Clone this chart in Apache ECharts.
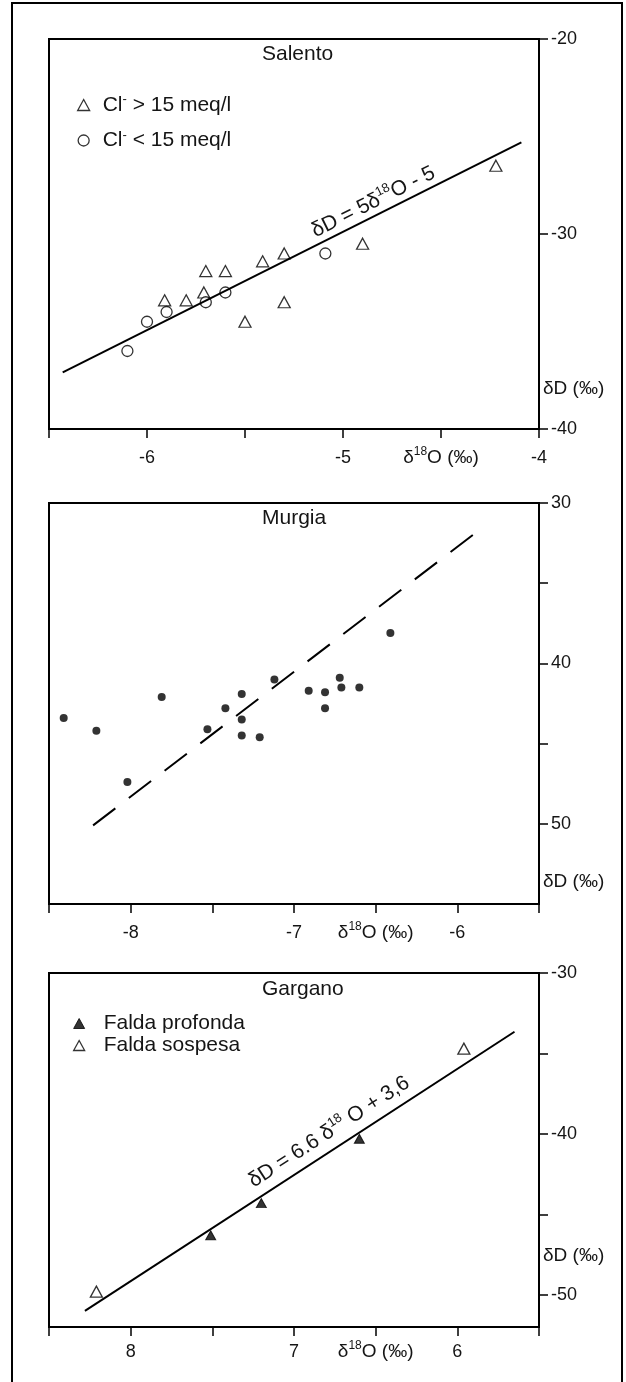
<!DOCTYPE html>
<html>
<head>
<meta charset="utf-8">
<title>Salento - Murgia - Gargano</title>
<script src="https://cdn.jsdelivr.net/npm/echarts@6/dist/echarts.min.js"></script>
<style>
  html, body { margin: 0; padding: 0; background: #fff; }
  #chart { width: 626px; height: 1382px; }
</style>
</head>
<body>
<div id="chart"></div>
<script>
// ---- Salento ----
// Cl- > 15 meq/l (triangoli vuoti)
const salentoHighClX = [-5.70, -5.60, -5.41, -5.30, -5.91, -5.80, -5.71, -5.50, -5.30, -4.90, -4.22]
const salentoHighClY = [-31.9, -31.9, -31.4, -31.0, -33.4, -33.4, -33.0, -34.5, -33.5, -30.5, -26.5]
// Cl- < 15 meq/l (cerchi vuoti)
const salentoLowClX = [-6.10, -6.00, -5.90, -5.70, -5.60, -5.09]
const salentoLowClY = [-36.0, -34.5, -34.0, -33.5, -33.0, -31.0]
// retta dD = 5 d18O - 5
const salentoLineX = [-6.43, -4.09]
const salentoLineY = [-37.1, -25.3]

const salentoXTicks = [-6.5, -6, -5.5, -5, -4.5, -4]
const salentoXLabelVals = [-6, -5, -4]
const salentoXLabelText = ['-6', '-5', '-4']
const salentoYTicks = [-20, -30, -40]
const salentoYLabelText = ['-20', '-30', '-40']

// ---- Murgia ----
const murgiaX = [-8.41, -8.21, -8.02, -7.81, -7.53, -7.42, -7.32, -7.32, -7.32, -7.21, -7.12, -6.91, -6.81, -6.81, -6.72, -6.71, -6.60, -6.41]
const murgiaY = [-43.4, -44.2, -47.4, -42.1, -44.1, -42.8, -41.9, -43.5, -44.5, -44.6, -41.0, -41.7, -41.8, -42.8, -40.9, -41.5, -41.5, -38.1]
const murgiaLineX = [-8.23, -5.88]
const murgiaLineY = [-50.1, -31.8]

const murgiaXTicks = [-8.5, -8, -7.5, -7, -6.5, -6, -5.5]
const murgiaXLabelVals = [-8, -7, -6]
const murgiaXLabelText = ['-8', '-7', '-6']
const murgiaYTicks = [-30, -35, -40, -45, -50]
const murgiaYLabelVals = [-30, -40, -50]
const murgiaYLabelText = ['30', '40', '50']

// ---- Gargano ----
const garganoDeepX = [-6.60, -7.20, -7.51]      // Falda profonda
const garganoDeepY = [-40.3, -44.3, -46.3]
const garganoPerchedX = [-5.96, -8.21]          // Falda sospesa
const garganoPerchedY = [-34.7, -49.8]
const garganoLineX = [-8.28, -5.65]
const garganoLineY = [-51.0, -33.65]

const garganoXTicks = [-8.5, -8, -7.5, -7, -6.5, -6, -5.5]
const garganoXLabelVals = [-8, -7, -6]
const garganoXLabelText = ['8', '7', '6']
const garganoYTicks = [-30, -35, -40, -45, -50]
const garganoYLabelVals = [-30, -40, -50]
const garganoYLabelText = ['-30', '-40', '-50']

const FONT = '"Liberation Sans", Arial, Helvetica, sans-serif'
const INK = '#151515'

function pts(xs, ys) {
  return xs.map((x, i) => [x, ys[i]])
}

// etichette asse: numeri + nome dell'asse x in una posizione di tacca
function labelFn(vals, texts, nameAt) {
  return function (v) {
    if (nameAt !== undefined && Math.abs(v - nameAt) < 1e-6) return '{n|δ}{s|18}{n|O (‰)}'
    const i = vals.findIndex(d => Math.abs(d - v) < 1e-6)
    return i < 0 ? '' : texts[i]
  }
}

const supRich = {
  n: {fontSize: 19, fontFamily: FONT, color: INK, lineHeight: 24},
  s: {fontSize: 12, fontFamily: FONT, color: INK, lineHeight: 12, verticalAlign: 'top'}
}

function xAxisOf(gi, min, max, ticks, labelVals, labelText, nameAt, margin) {
  return {
    type: 'value', gridIndex: gi, min: min, max: max,
    splitLine: {show: false},
    axisLine: {show: true, onZero: false, lineStyle: {color: '#000', width: 2}},
    axisTick: {show: true, inside: false, length: 9, customValues: ticks, lineStyle: {color: '#000', width: 1.5}},
    axisLabel: {
      customValues: labelVals.concat([nameAt]),
      formatter: labelFn(labelVals, labelText, nameAt),
      margin: margin, fontSize: 18, fontFamily: FONT, color: INK, lineHeight: 24,
      rich: supRich
    }
  }
}

function yAxisOf(gi, min, max, ticks, labelVals, labelText) {
  return {
    type: 'value', gridIndex: gi, position: 'right', min: min, max: max,
    splitLine: {show: false},
    axisLine: {show: true, onZero: false, lineStyle: {color: '#000', width: 2}},
    axisTick: {show: true, inside: false, length: 9, customValues: ticks, lineStyle: {color: '#000', width: 1.5}},
    axisLabel: {
      customValues: labelVals,
      formatter: labelFn(labelVals, labelText),
      margin: 12, fontSize: 18, fontFamily: FONT, color: INK
    }
  }
}

function legendRich(gap) {
  return {
    a: {fontSize: 21, fontFamily: FONT, color: INK, lineHeight: 24, padding: [0, 0, 0, gap]},
    n: {fontSize: 21, fontFamily: FONT, color: INK, lineHeight: 24},
    s: {fontSize: 13, fontFamily: FONT, color: INK, lineHeight: 11, verticalAlign: 'top'}
  }
}
const legendText = {
  'Cl- > 15 meq/l': '{a|Cl}{s|-}{n| > 15 meq/l}',
  'Cl- < 15 meq/l': '{a|Cl}{s|-}{n| < 15 meq/l}',
  'Falda profonda': '{a|Falda profonda}',
  'Falda sospesa': '{a|Falda sospesa}'
}
const openStyle = {color: '#fff', borderColor: '#000', borderWidth: 1.3}
const fillStyle = {color: '#000', borderColor: '#000', borderWidth: 1}

const option = {
  animation: false,
  backgroundColor: '#fff',
  title: [
    {text: 'Salento', left: 262, top: 44},
    {text: 'Murgia', left: 262, top: 508},
    {text: 'Gargano', left: 262, top: 979}
  ].map(t => Object.assign(t, {padding: 0, textStyle: {fontSize: 21, fontWeight: 'normal', fontFamily: FONT, color: INK}})),
  grid: [
    {left: 49, top: 39, width: 490, height: 390},
    {left: 49, top: 503, width: 490, height: 401},
    {left: 49, top: 973, width: 490, height: 354}
  ].map(g => Object.assign(g, {show: true, borderColor: '#000', borderWidth: 2, containLabel: false, outerBoundsMode: 'none'})),
  legend: [
    {
      left: 77, top: 93, orient: 'vertical', padding: 0, itemWidth: 12, itemHeight: 11, itemGap: 13,
      selectedMode: false,
      data: [
        {name: 'Cl- > 15 meq/l', icon: 'triangle', itemStyle: openStyle},
        {name: 'Cl- < 15 meq/l', icon: 'circle', itemStyle: openStyle}
      ],
      formatter: name => legendText[name],
      textStyle: {fontSize: 21, fontFamily: FONT, color: INK, rich: legendRich(8)}
    },
    {
      left: 73, top: 1013, orient: 'vertical', padding: 0, itemWidth: 11, itemHeight: 10, itemGap: 1,
      selectedMode: false,
      data: [
        {name: 'Falda profonda', icon: 'triangle', itemStyle: fillStyle},
        {name: 'Falda sospesa', icon: 'triangle', itemStyle: openStyle}
      ],
      formatter: name => legendText[name],
      textStyle: {fontSize: 21, fontFamily: FONT, color: INK, rich: legendRich(14)}
    }
  ],
  xAxis: [
    xAxisOf(0, -6.5, -4, salentoXTicks, salentoXLabelVals, salentoXLabelText, -4.5, 17),
    xAxisOf(1, -8.5, -5.5, murgiaXTicks, murgiaXLabelVals, murgiaXLabelText, -6.5, 17),
    xAxisOf(2, -8.5, -5.5, garganoXTicks, garganoXLabelVals, garganoXLabelText, -6.5, 13)
  ],
  yAxis: [
    yAxisOf(0, -40, -20, salentoYTicks, salentoYTicks, salentoYLabelText),
    yAxisOf(1, -55, -30, murgiaYTicks, murgiaYLabelVals, murgiaYLabelText),
    yAxisOf(2, -52, -30, garganoYTicks, garganoYLabelVals, garganoYLabelText)
  ],
  series: [
    {
      name: 'salento-line', type: 'line', xAxisIndex: 0, yAxisIndex: 0,
      data: pts(salentoLineX, salentoLineY), symbol: 'none',
      lineStyle: {color: '#000', width: 2}
    },
    {
      name: 'Cl- > 15 meq/l', type: 'scatter', xAxisIndex: 0, yAxisIndex: 0,
      data: pts(salentoHighClX, salentoHighClY), symbol: 'triangle', symbolSize: [12, 11],
      itemStyle: openStyle
    },
    {
      name: 'Cl- < 15 meq/l', type: 'scatter', xAxisIndex: 0, yAxisIndex: 0,
      data: pts(salentoLowClX, salentoLowClY), symbol: 'circle', symbolSize: 11,
      itemStyle: openStyle
    },
    {
      name: 'murgia-line', type: 'line', xAxisIndex: 1, yAxisIndex: 1,
      data: pts(murgiaLineX, murgiaLineY), symbol: 'none',
      lineStyle: {color: '#000', width: 2, type: [28, 17]}
    },
    {
      name: 'Murgia', type: 'scatter', xAxisIndex: 1, yAxisIndex: 1,
      data: pts(murgiaX, murgiaY), symbol: 'circle', symbolSize: 8,
      itemStyle: {color: '#000'}
    },
    {
      name: 'gargano-line', type: 'line', xAxisIndex: 2, yAxisIndex: 2,
      data: pts(garganoLineX, garganoLineY), symbol: 'none',
      lineStyle: {color: '#000', width: 2}
    },
    {
      name: 'Falda profonda', type: 'scatter', xAxisIndex: 2, yAxisIndex: 2,
      data: pts(garganoDeepX, garganoDeepY), symbol: 'triangle', symbolSize: [10, 9],
      itemStyle: fillStyle
    },
    {
      name: 'Falda sospesa', type: 'scatter', xAxisIndex: 2, yAxisIndex: 2,
      data: pts(garganoPerchedX, garganoPerchedY), symbol: 'triangle', symbolSize: [12, 11],
      itemStyle: openStyle
    }
  ]
}

const chart = echarts.init(document.getElementById('chart'), null, {renderer: 'canvas'})
chart.setOption(option)

// testi aggiuntivi posizionati con le scale del grafico
function pix(gi, x, y) {
  return chart.convertToPixel({gridIndex: gi}, [x, y])
}

function textEl(x, y, rotation, text, rich, align) {
  return {
    type: 'text', x: x, y: y, rotation: rotation, z: 10,
    style: {
      text: text, rich: rich, fill: INK, textFill: INK,
      fontSize: 20, fontFamily: FONT,
      align: align, textAlign: align, verticalAlign: 'middle', textVerticalAlign: 'middle'
    }
  }
}

// equazione lungo la retta: t = posizione lungo il segmento, off = distanza sopra la retta
function equation(gi, lx, ly, t, off, text) {
  const a = pix(gi, lx[0], ly[0])
  const b = pix(gi, lx[1], ly[1])
  const dx = b[0] - a[0], dy = b[1] - a[1]
  const len = Math.hypot(dx, dy)
  const cx = a[0] + t * dx + off * dy / len
  const cy = a[1] + t * dy - off * dx / len
  const rich = {
    n: {fontSize: 21, fontFamily: FONT, lineHeight: 26},
    s: {fontSize: 13, fontFamily: FONT, lineHeight: 13, verticalAlign: 'top'}
  }
  return textEl(cx, cy, Math.atan2(-dy, dx), text, rich, 'center')
}

function yName(gi, xMax, yVal) {
  const p = pix(gi, xMax, yVal)
  const rich = {n: {fontSize: 19, fontFamily: FONT}}
  return textEl(p[0] + 4, p[1], 0, '{n|δD (‰)}', rich, 'left')
}

chart.setOption({
  graphic: [
    {
      type: 'rect', z: 0, silent: true,
      shape: {x: 12, y: 3, width: 610, height: 1400},
      style: {fill: 'none', stroke: '#000', lineWidth: 2}
    },
    equation(0, salentoLineX, salentoLineY, 0.69, 13, '{n|δD = 5δ}{s|18}{n|O - 5}'),
    equation(2, garganoLineX, garganoLineY, 0.59, 17, '{n|δD = 6.6 δ}{s|18}{n| O + 3,6}'),
    yName(0, -4, -37.95),
    yName(1, -5.5, -53.6),
    yName(2, -5.5, -47.6)
  ]
})
</script>
</body>
</html>
